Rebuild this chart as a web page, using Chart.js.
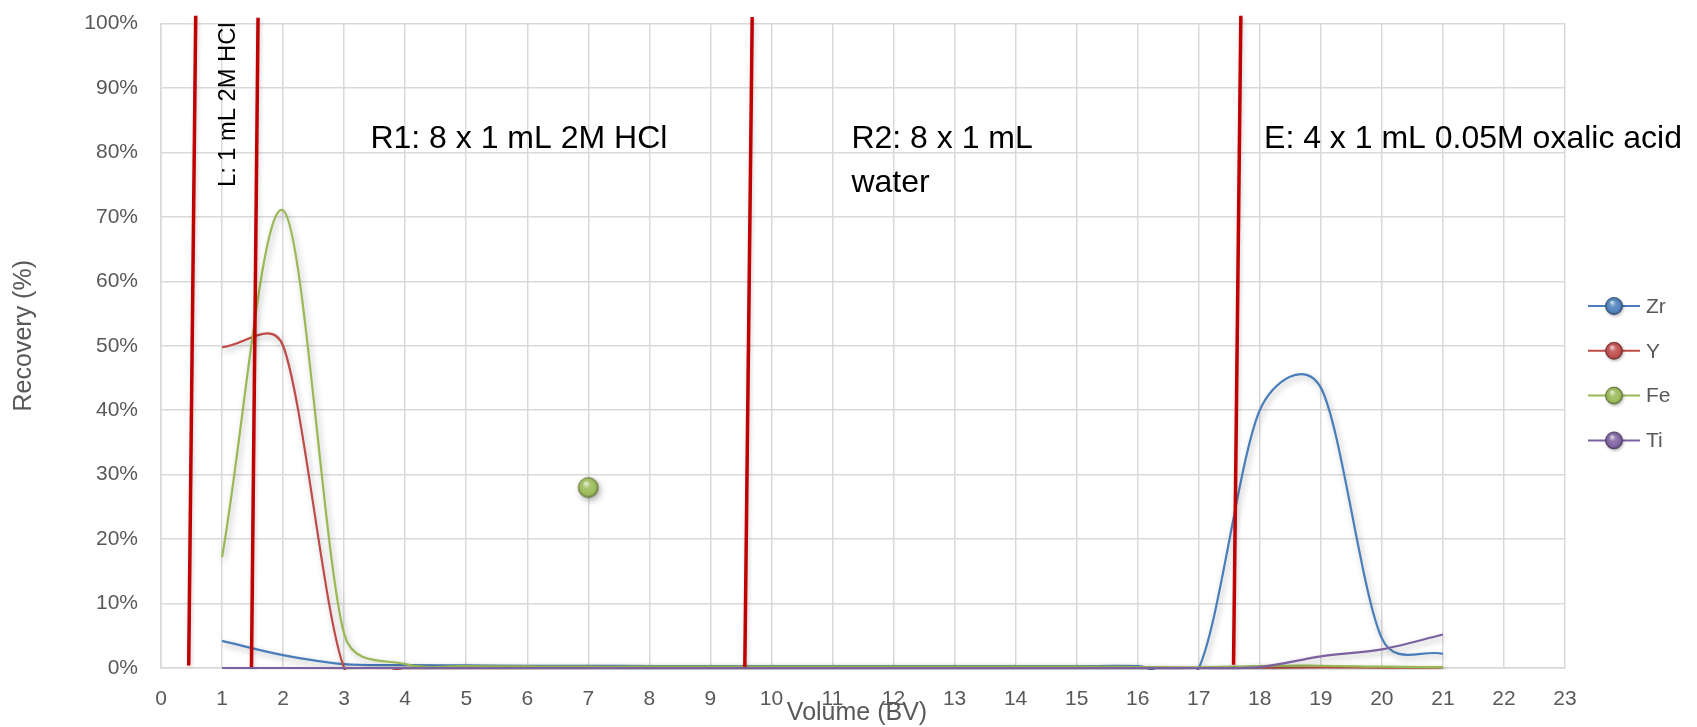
<!DOCTYPE html>
<html>
<head>
<meta charset="utf-8">
<script src="https://cdn.jsdelivr.net/npm/chart.js@4.4.0/dist/chart.umd.min.js"></script>
<style>
html,body{margin:0;padding:0;background:#ffffff;}
#wrap{width:1697px;height:727px;position:relative;}
</style>
</head>
<body>
<div id="wrap"><canvas id="c" width="1697" height="727"></canvas></div>
<script>
// ---------------- data ----------------
const volumeBV   = [1, 2, 3, 4, 5, 6, 7, 8, 9, 10, 11, 12, 13, 14, 15, 16, 17, 18, 19, 20, 21];
const zrRecovery = [4.2, 2.0, 0.6, 0.45, 0.4, 0.35, 0.35, 0.3, 0.3, 0.3, 0.3, 0.3, 0.3, 0.3, 0.3, 0.3, 0, 40, 43.5, 4.6, 2.2];
const yRecovery  = [49.8, 50, 0, 0, 0.05, 0.05, 0.05, 0.05, 0.05, 0.05, 0.05, 0.05, 0.05, 0.05, 0.05, 0.05, 0, 0.05, 0.1, 0.05, 0.05];
const feRecovery = [17.2, 71, 5.3, 0.6, 0.3, 0.25, 0.2, 0.2, 0.2, 0.2, 0.2, 0.2, 0.2, 0.2, 0.2, 0.15, 0.1, 0.3, 0.35, 0.2, 0.1];
const tiRecovery = [0, 0, 0, 0, 0, 0, 0, 0, 0, 0, 0, 0, 0, 0, 0, 0, 0, 0.15, 1.8, 2.9, 5.2];
const feExtraX   = [7];
const feExtraY   = [28];
const seriesNames = ['Zr', 'Y', 'Fe', 'Ti'];
// step boundary lines (bottom point and top point)
const boundaryX0 = [0.454, 1.482, 9.564, 17.57];
const boundaryY0 = [0.4, 0.15, 0.2, 0.5];
const boundaryX1 = [0.569, 1.590, 9.685, 17.69];
const boundaryY1 = [101.2, 100.9, 101.0, 101.2];
const xTickValues = [0,1,2,3,4,5,6,7,8,9,10,11,12,13,14,15,16,17,18,19,20,21,22,23];
const yTickValues = [0,10,20,30,40,50,60,70,80,90,100];
const stepLabels = ['L: 1 mL 2M HCl', 'R1: 8 x 1 mL 2M HCl', 'R2: 8 x 1 mL', 'water', 'E: 4 x 1 mL 0.05M oxalic acid'];
const xTitle = 'Volume (BV)';
const yTitle = 'Recovery (%)';

// ---------------- styles ----------------
const FONT = "'Liberation Sans', Arial, sans-serif";
const lineColors = ['#4A7EBB', '#BE4B48', '#98B954', '#7D60A0'];
const ballColors = ['#4F81BD', '#C0504D', '#9BBB59', '#8064A2'];
const boundaryColor = '#C00000';
const gridColor = '#D9D9D9';
const textGray = '#595959';
// annotation anchors in data units
const labelAnchors = [
  {x: 1.10, y: 87.4, rot: -90, size: 23.7, align: 'center', base: 'middle'},
  {x: 3.43, y: 80.7, rot: 0, size: 32, align: 'left', base: 'alphabetic'},
  {x: 11.31, y: 80.7, rot: 0, size: 32, align: 'left', base: 'alphabetic'},
  {x: 11.31, y: 73.8, rot: 0, size: 32, align: 'left', base: 'alphabetic'},
  {x: 18.07, y: 80.7, rot: 0, size: 32, align: 'left', base: 'alphabetic'}
];

function hexToRgb(h){const n=parseInt(h.slice(1),16);return [(n>>16)&255,(n>>8)&255,n&255];}
function mix(h, t, amt){const a=hexToRgb(h);return 'rgb('+a.map((v,i)=>Math.round(v+(t[i]-v)*amt)).join(',')+')';}

function drawBall(ctx, cx, cy, r, color){
  const g = ctx.createRadialGradient(cx - r*0.25, cy - r*0.45, r*0.05, cx, cy, r);
  g.addColorStop(0, mix(color,[255,255,255],0.75));
  g.addColorStop(0.35, mix(color,[255,255,255],0.15));
  g.addColorStop(0.8, color);
  g.addColorStop(1, mix(color,[0,0,0],0.35));
  ctx.beginPath();
  ctx.ellipse(cx, cy, r, r, 0, 0, Math.PI*2);
  ctx.fillStyle = g;
  ctx.fill();
  ctx.lineWidth = 0.8;
  ctx.strokeStyle = mix(color,[0,0,0],0.4);
  ctx.stroke();
}
function makeBallCanvas(color, r){
  const c = document.createElement('canvas');
  c.width = Math.ceil(2*r+4); c.height = Math.ceil(2*r+6);
  const x = c.getContext('2d');
  drawBall(x, c.width/2, c.height/2, r, color);
  return c;
}

// Excel-like smoothing of the control points of the line (pixel space)
function excelSmooth(points) {
  const n = points.length, f = 1/6;
  const dist = (a, b) => Math.hypot(b.x - a.x, b.y - a.y);
  for (let i = 0; i < n; i++) {
    const p1 = points[i], p0 = points[i-1], p2 = points[i+1];
    if (!p0 && !p2) continue;
    if (!p0) {
      p1.cp1x = p1.x; p1.cp1y = p1.y;
      p1.cp2x = p1.x + (p2.x - p1.x) / 3; p1.cp2y = p1.y + (p2.y - p1.y) / 3;
      continue;
    }
    if (!p2) {
      p1.cp2x = p1.x; p1.cp2y = p1.y;
      p1.cp1x = p1.x - (p1.x - p0.x) / 3; p1.cp1y = p1.y - (p1.y - p0.y) / 3;
      continue;
    }
    const d02 = dist(p0, p2), d01 = dist(p0, p1), d12 = dist(p1, p2);
    let fa = f, fb = f;
    if (d02 > 0) {
      if (f * d02 > d01 / 2) fa = d01 / (2 * d02);
      if (f * d02 > d12 / 2) fb = d12 / (2 * d02);
    }
    const tx = p2.x - p0.x, ty = p2.y - p0.y;
    p1.cp1x = p1.x - fa * tx; p1.cp1y = p1.y - fa * ty;
    p1.cp2x = p1.x + fb * tx; p1.cp2y = p1.y + fb * ty;
  }
}

const mkPts = (xs, ys) => xs.map((v, i) => ({x: v, y: ys[i]}));
const seriesData = [zrRecovery, yRecovery, feRecovery, tiRecovery];

const datasets = [];
for (let i = 0; i < boundaryX0.length; i++) {
  datasets.push({
    label: 'boundary' + i,
    data: [{x: boundaryX0[i], y: boundaryY0[i]}, {x: boundaryX1[i], y: boundaryY1[i]}],
    showLine: true, borderColor: boundaryColor, borderWidth: 3.5, pointRadius: 0, pointHoverRadius: 0,
    tension: 0, clip: false, order: 0, shadow: 'light', fill: false
  });
}
seriesData.forEach((arr, i) => {
  datasets.push({
    label: seriesNames[i],
    data: mkPts(volumeBV, arr),
    showLine: true, borderColor: lineColors[i], backgroundColor: ballColors[i],
    borderWidth: 2.2, pointRadius: 0, pointHoverRadius: 0, fill: false,
    tension: 0.4, order: 4 - i, shadow: 'full', smooth: true, clip: 2
  });
});
datasets.push({
  label: 'Fe point',
  data: mkPts(feExtraX, feExtraY),
  showLine: false, pointStyle: makeBallCanvas(ballColors[2], 10), pointRadius: 10, pointHoverRadius: 10,
  order: 0, shadow: 'full', clip: false
});

const shadowPlugin = {
  id: 'shadowPlugin',
  beforeDatasetDraw(chart, args) {
    const ds = chart.data.datasets[args.index];
    const meta = chart.getDatasetMeta(args.index);
    if (ds.smooth && meta.dataset) {
      meta.dataset.updateControlPoints(chart.chartArea, 'x');
      excelSmooth(meta.data);
      meta.dataset._pointsUpdated = true;
      meta.dataset._path = undefined;
    }
    if (!ds.shadow) return;
    const ctx = chart.ctx;
    ctx.save();
    if (ds.shadow === 'full') {
      ctx.shadowColor = 'rgba(0,0,0,0.30)'; ctx.shadowBlur = 6; ctx.shadowOffsetX = 2; ctx.shadowOffsetY = 3;
    } else {
      ctx.shadowColor = 'rgba(0,0,0,0.18)'; ctx.shadowBlur = 4; ctx.shadowOffsetX = 1; ctx.shadowOffsetY = 2;
    }
  },
  afterDatasetDraw(chart, args) {
    const ds = chart.data.datasets[args.index];
    if (!ds.shadow) return;
    chart.ctx.restore();
  }
};

const textPlugin = {
  id: 'textPlugin',
  afterDraw(chart) {
    const ctx = chart.ctx, xs = chart.scales.x, ys = chart.scales.y, area = chart.chartArea;
    stepLabels.forEach((t, i) => {
      const a = labelAnchors[i];
      ctx.save();
      ctx.translate(xs.getPixelForValue(a.x), ys.getPixelForValue(a.y));
      ctx.rotate(a.rot * Math.PI / 180);
      ctx.font = a.size + 'px ' + FONT;
      ctx.fillStyle = '#000000';
      ctx.textAlign = a.align; ctx.textBaseline = a.base;
      ctx.fillText(t, 0, 0);
      ctx.restore();
    });
    // axis titles
    ctx.save();
    ctx.font = '25px ' + FONT;
    ctx.fillStyle = textGray;
    ctx.textAlign = 'center'; ctx.textBaseline = 'middle';
    ctx.fillText(xTitle, (area.left + area.right) / 2 - 6, 713);
    ctx.translate(24, (area.top + area.bottom) / 2 - 10);
    ctx.rotate(-Math.PI / 2);
    ctx.fillText(yTitle, 0, 0);
    ctx.restore();
    // legend
    const lx = area.right + 23, top = 306, gap = 44.8;
    seriesNames.forEach((n, i) => {
      const cy = top + i * gap;
      ctx.save();
      ctx.strokeStyle = lineColors[i]; ctx.lineWidth = 2;
      ctx.beginPath(); ctx.moveTo(lx, cy); ctx.lineTo(lx + 52, cy); ctx.stroke();
      ctx.shadowColor = 'rgba(0,0,0,0.25)'; ctx.shadowBlur = 3; ctx.shadowOffsetX = 1; ctx.shadowOffsetY = 1.5;
      drawBall(ctx, lx + 26, cy, 8.5, ballColors[i]);
      ctx.restore();
      ctx.save();
      ctx.font = '21px ' + FONT; ctx.fillStyle = textGray;
      ctx.textAlign = 'left'; ctx.textBaseline = 'middle';
      ctx.fillText(n, lx + 58, cy + 1);
      ctx.restore();
    });
  }
};

new Chart(document.getElementById('c'), {
  type: 'line',
  data: {datasets},
  options: {
    responsive: false,
    animation: false,
    devicePixelRatio: 1,
    layout: {padding: {top: 23.5, right: 132, left: 0, bottom: 0}},
    plugins: {legend: {display: false}, tooltip: {enabled: false}},
    elements: {line: {capBezierPoints: false}},
    scales: {
      x: {
        type: 'linear', min: 0, max: 23,
        afterBuildTicks: (s) => { s.ticks = xTickValues.map(v => ({value: v})); },
        afterFit: (s) => { s.height = 59; s.paddingLeft = 0; s.paddingRight = 0; },
        ticks: {stepSize: 1, padding: 19, color: textGray, font: {family: FONT, size: 21}, maxRotation: 0, autoSkip: false},
        grid: {color: gridColor, lineWidth: 1.5, drawTicks: false},
        border: {color: gridColor, width: 1.5}
      },
      y: {
        type: 'linear', min: 0, max: 100,
        afterBuildTicks: (s) => { s.ticks = yTickValues.map(v => ({value: v})); },
        afterFit: (s) => { s.width = 161; s.paddingTop = 0; s.paddingBottom = 0; },
        ticks: {padding: 23, color: textGray, font: {family: FONT, size: 21}, callback: (v) => v + '%'},
        grid: {color: gridColor, lineWidth: 1.5, drawTicks: false},
        border: {color: gridColor, width: 1.5}
      }
    }
  },
  plugins: [shadowPlugin, textPlugin]
});
</script>
</body>
</html>
